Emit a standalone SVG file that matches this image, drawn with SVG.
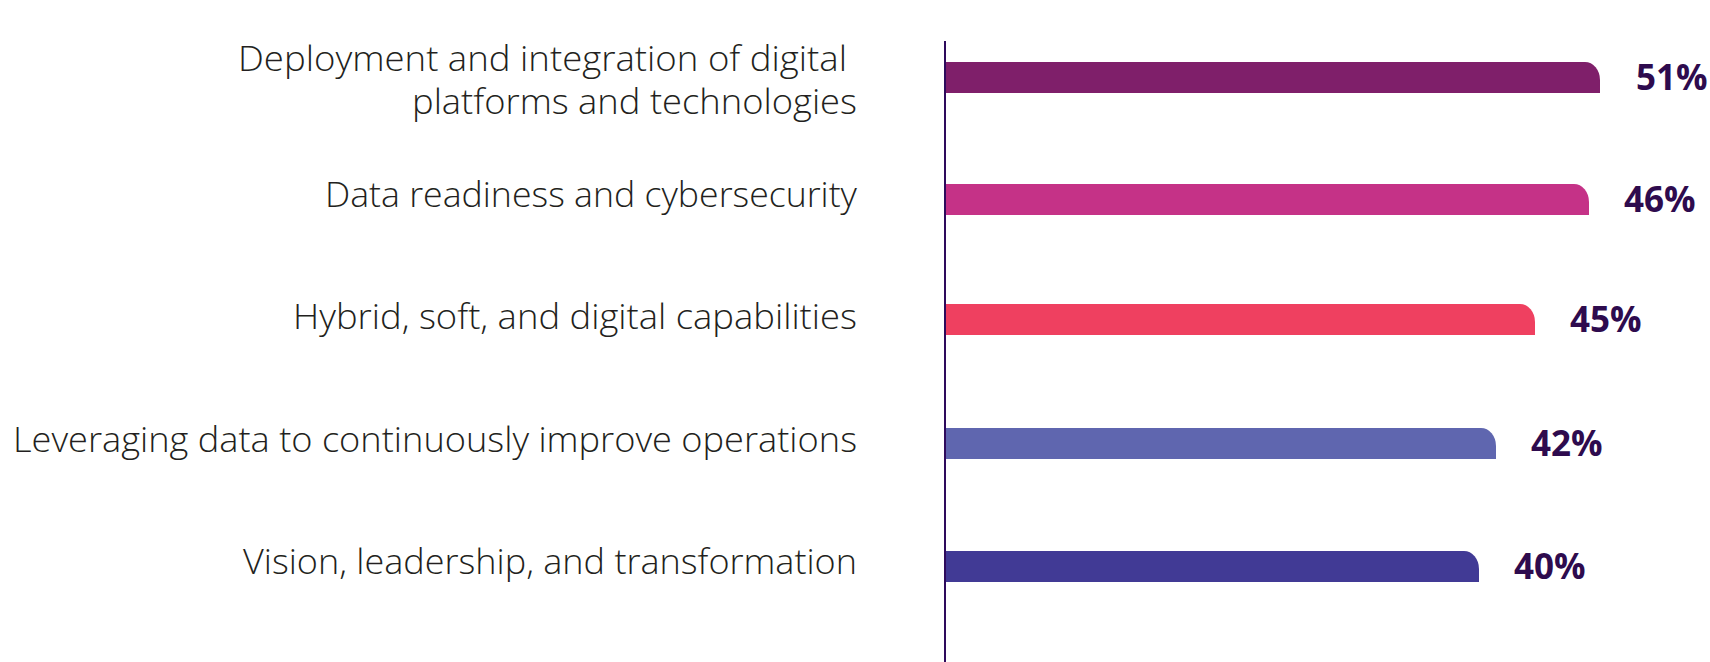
<svg xmlns="http://www.w3.org/2000/svg" width="1710" height="662" viewBox="0 0 1710 662">
<style>
.lbl{font-family:"Open Sans","Liberation Sans",sans-serif;font-weight:300;font-size:35px;fill:#231f20;text-anchor:end}
.val{font-family:"Open Sans","Liberation Sans",sans-serif;font-weight:700;font-size:35px;fill:#2e0b4e}
</style>
<rect width="1710" height="662" fill="#ffffff"/>
<g id="axis"><rect x="944" y="41" width="2" height="621" fill="#2e0a5c"/></g>
<g id="row1">
<text class="lbl" x="847" y="71" textLength="609" lengthAdjust="spacingAndGlyphs">Deployment and integration of digital</text>
<text class="lbl" x="857" y="114" textLength="445" lengthAdjust="spacingAndGlyphs">platforms and technologies</text>
<path d="M946,62 H1585 A15,18 0 0 1 1600,80 V93 H946 Z" fill="#7f1f6a"/>
<text class="val" x="1636" y="90">51%</text>
</g>
<g id="row2">
<text class="lbl" x="857" y="207" textLength="532" lengthAdjust="spacingAndGlyphs">Data readiness and cybersecurity</text>
<path d="M946,184 H1574 A15,18 0 0 1 1589,202 V215 H946 Z" fill="#c53287"/>
<text class="val" x="1624" y="212">46%</text>
</g>
<g id="row3">
<text class="lbl" x="857" y="329" textLength="564" lengthAdjust="spacingAndGlyphs">Hybrid, soft, and digital capabilities</text>
<path d="M946,304 H1520 A15,18 0 0 1 1535,322 V335 H946 Z" fill="#ef4060"/>
<text class="val" x="1570" y="332">45%</text>
</g>
<g id="row4">
<text class="lbl" x="857" y="452" textLength="844" lengthAdjust="spacingAndGlyphs">Leveraging data to continuously improve operations</text>
<path d="M946,428 H1481 A15,18 0 0 1 1496,446 V459 H946 Z" fill="#5f66af"/>
<text class="val" x="1531" y="456">42%</text>
</g>
<g id="row5">
<text class="lbl" x="857" y="574" textLength="614" lengthAdjust="spacingAndGlyphs">Vision, leadership, and transformation</text>
<path d="M946,551 H1464 A15,18 0 0 1 1479,569 V582 H946 Z" fill="#413a95"/>
<text class="val" x="1514" y="579">40%</text>
</g>
</svg>
